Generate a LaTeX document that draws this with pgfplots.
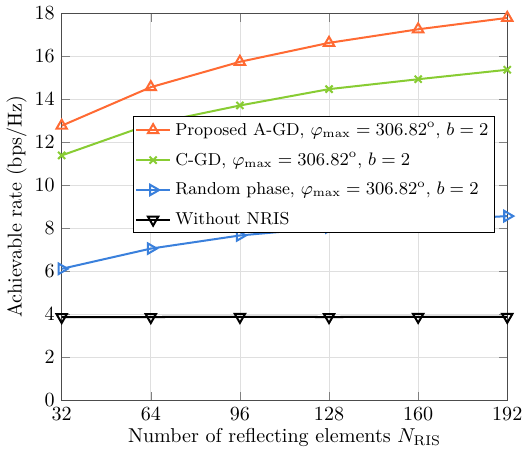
\documentclass[border=0pt]{standalone}
\usepackage{pgfplots}
\pgfplotsset{compat=1.18}
\definecolor{corange}{RGB}{255,106,51}
\definecolor{cgreen}{RGB}{136,204,51}
\definecolor{cblue}{RGB}{58,128,220}
\begin{document}
\begin{tikzpicture}
\begin{axis}[
  scale only axis,
  width=222pt, height=193pt,
  xmin=32, xmax=192, ymin=0, ymax=18,
  xtick={32,64,96,128,160,192},
  ytick={0,2,4,6,8,10,12,14,16,18},
  grid=major,
  grid style={gray!25, line width=0.4pt},
  tick align=inside,
  axis line style={black!70},
  xlabel={Number of reflecting elements $N_{\mathrm{RIS}}$},
  ylabel={Achievable rate (bps/Hz)},
  xlabel style={yshift=3pt},
  ylabel style={yshift=-3pt},
  legend style={at={(0.16,0.734)}, anchor=north west, draw=black, fill=white, font=\fontsize{8.6}{10.5}\selectfont, inner sep=0.8pt, row sep=3pt},
  legend cell align=left,
  every axis plot/.append style={line width=1pt},
]
\addplot[corange, mark=triangle, mark size=3pt, mark options={solid, fill=white}] coordinates {
(32,12.77) (64,14.56) (96,15.74) (128,16.62) (160,17.25) (192,17.78)};
\addlegendentry{Proposed A-GD, $\varphi_{\max}=306.82^{\mathrm{o}}$, $b=2$}
\addplot[cgreen, mark=x, mark size=2.5pt, mark options={solid}] coordinates {
(32,11.39) (64,12.85) (96,13.71) (128,14.47) (160,14.93) (192,15.37)};
\addlegendentry{C-GD, $\varphi_{\max}=306.82^{\mathrm{o}}$, $b=2$}
\addplot[cblue, mark=triangle, mark size=3pt, mark options={solid, rotate=-90, fill=white}] coordinates {
(32,6.12) (64,7.06) (96,7.67) (128,8.04) (160,8.34) (192,8.57)};
\addlegendentry{Random phase, $\varphi_{\max}=306.82^{\mathrm{o}}$, $b=2$}
\addplot[black, mark=triangle, mark size=3pt, mark options={solid, rotate=180, fill=white}] coordinates {
(32,3.88) (64,3.88) (96,3.89) (128,3.88) (160,3.89) (192,3.89)};
\addlegendentry{Without NRIS}
\end{axis}
\end{tikzpicture}
\end{document}
